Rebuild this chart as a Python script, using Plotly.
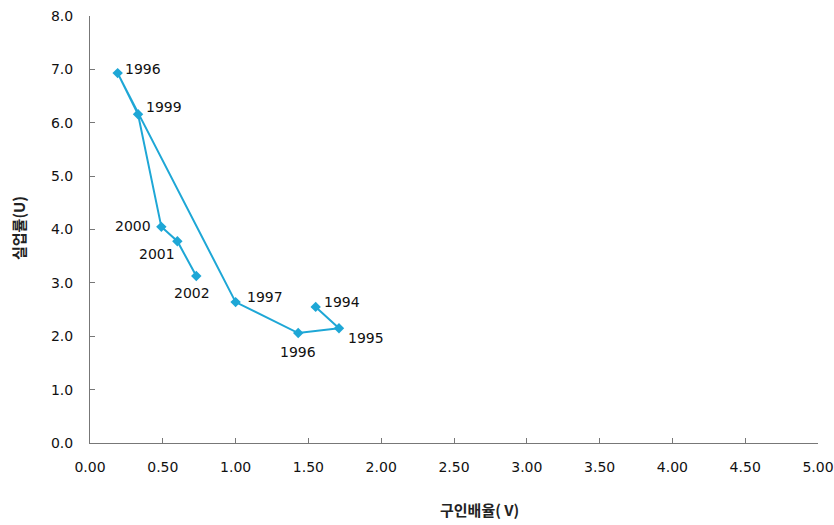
import plotly.graph_objects as go

years = ["1994", "1995", "1996", "1997", "1996", "1999", "2000", "2001", "2002"]
vacancy = [1.55, 1.71, 1.43, 1.00, 0.19, 0.33, 0.49, 0.60, 0.73]
unemp = [2.55, 2.15, 2.06, 2.64, 6.93, 6.16, 4.05, 3.78, 3.13]
x_ticks = [0, 0.5, 1, 1.5, 2, 2.5, 3, 3.5, 4, 4.5, 5]
y_ticks = [0, 1, 2, 3, 4, 5, 6, 7, 8]
x_title = "구인배율( V)"
y_title = "실업률(U)"

color = "#1ea7d6"
font = "DejaVu Sans, sans-serif"
kfont = "Noto Sans CJK KR, sans-serif"

fig = go.Figure()
fig.add_trace(go.Scatter(
    x=vacancy, y=unemp, mode="lines+markers",
    line=dict(color=color, width=2),
    marker=dict(symbol="diamond", size=8, color=color),
    showlegend=False, hoverinfo="skip",
))

# label placement: (xanchor, yanchor, xshift, yshift)
placement = [
    ("left", "middle", 6, 5),
    ("left", "middle", 7, -10),
    ("center", "top", 0, -9),
    ("left", "middle", 9, 5),
    ("left", "middle", 5, 4),
    ("left", "middle", 6, 7),
    ("right", "middle", -8, 1),
    ("right", "top", 0, -3),
    ("center", "top", -4, -7),
]
for x, y, t, (xa, ya, xs, ys) in zip(vacancy, unemp, years, placement):
    fig.add_annotation(x=x, y=y, text=t, showarrow=False,
                       xanchor=xa, yanchor=ya, xshift=xs, yshift=ys,
                       font=dict(family=font, size=14, color="#111"))

# axis titles
fig.add_annotation(xref="paper", yref="paper", x=0.5357, y=-0.1546,
                   text=x_title, showarrow=False, xanchor="center", yanchor="middle",
                   font=dict(family=kfont, size=15, color="#222", weight="bold"))
fig.add_annotation(xref="paper", yref="paper", x=-0.0989, y=0.5035,
                   text=y_title, showarrow=False, textangle=-90,
                   xanchor="center", yanchor="middle",
                   font=dict(family=kfont, size=15, color="#222", weight="bold"))

axis_common = dict(
    showline=True, linecolor="#777", linewidth=1,
    ticks="inside", ticklen=5, tickcolor="#777", tickwidth=1,
    showgrid=False, zeroline=False, automargin=False,
    tickfont=dict(family=font, size=14, color="#111"),
)
fig.update_xaxes(range=[0, 5], tickvals=x_ticks,
                 ticktext=[f"{v:.2f}" for v in x_ticks],
                 ticklabelstandoff=11, **axis_common)
fig.update_yaxes(range=[0, 8], tickvals=y_ticks,
                 ticktext=[f"{v:.1f}" for v in y_ticks],
                 ticklabelstandoff=13, **axis_common)
fig.update_layout(
    width=834, height=525,
    margin=dict(l=90, r=16, t=16, b=82),
    plot_bgcolor="white", paper_bgcolor="white",
)
fig.write_html("out.html", config={"displayModeBar": False},
               post_script="document.body.style.margin='0';document.body.style.overflow='hidden';")
